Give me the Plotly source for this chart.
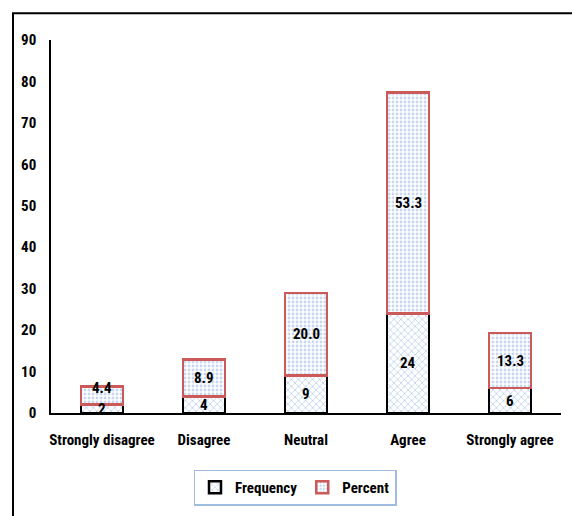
import plotly.graph_objects as go

categories = ["Strongly disagree", "Disagree", "Neutral", "Agree", "Strongly agree"]
frequency = [2, 4, 9, 24, 6]
percent = [4.4, 8.9, 20.0, 53.3, 13.3]
y_ticks = [0, 10, 20, 30, 40, 50, 60, 70, 80, 90]

FONT = "Liberation Sans Narrow, Roboto Condensed, Arial Narrow, sans-serif"

W, H = 572, 516
L, R, T, B = 51, 11, 40, 100
pw, ph = W - L - R, H - T - B
Y_MAX = 90
px_per_unit = ph / Y_MAX

label_font = dict(family=FONT, size=15, color="black", weight="bold")

fig = go.Figure()
fig.add_trace(go.Bar(
    x=categories, y=frequency, name="Frequency",
    marker=dict(color="white",
                line=dict(color="black", width=2.5),
                pattern=dict(shape="x", fgcolor="#7ea6dc", bgcolor="white",
                             size=5, solidity=0.3)),
))
fig.add_trace(go.Bar(
    x=categories, y=percent, name="Percent",
    marker=dict(color="white",
                line=dict(color="#cc5a58", width=2.5),
                pattern=dict(shape=".", fgcolor="#8fb0e0", bgcolor="white",
                             size=4, solidity=0.4)),
))

# value labels centred in each segment; a percent label is nudged up when
# its segment is too short to keep it clear of the frequency label below
MIN_GAP = 21
for cat, f, p in zip(categories, frequency, percent):
    fig.add_annotation(x=cat, y=f / 2, text=f"{f:d}", showarrow=False,
                       font=label_font)
    gap = (f / 2 + p / 2) * px_per_unit
    fig.add_annotation(x=cat, y=f + p / 2, text=f"{p:.1f}", showarrow=False,
                       font=label_font, yshift=max(0, MIN_GAP - gap))

# outer frame (left and top edges only)
fx = (13 - L) / pw
fy = 1 + (T - 13) / ph
fig.add_shape(type="path", xref="paper", yref="paper",
              path=f"M {fx},-1 L {fx},{fy} L 1.2,{fy}",
              line=dict(color="black", width=2))

fig.update_layout(
    width=W, height=H,
    margin=dict(l=L, r=R, t=T, b=B),
    barmode="stack", bargap=0.59,
    plot_bgcolor="white", paper_bgcolor="white",
    font=dict(family=FONT, size=15, color="black"),
    showlegend=True,
    legend=dict(orientation="h", x=(295 - L) / pw, xanchor="center",
                y=(416 - 473) / ph, yanchor="top",
                bordercolor="#9fbce0", borderwidth=1.5,
                font=dict(family=FONT, size=15, color="black", weight="bold"),
                itemwidth=30, traceorder="normal"),
    xaxis=dict(showline=True, linecolor="black", linewidth=2,
               ticks="", showgrid=False, ticklabelstandoff=12,
               tickfont=dict(family=FONT, size=15, color="black", weight="bold")),
    yaxis=dict(range=[0, Y_MAX], tickvals=y_ticks, showline=True, linecolor="black",
               linewidth=1.5, ticks="", showgrid=False, zeroline=False,
               ticklabelstandoff=10,
               tickfont=dict(family=FONT, size=15, color="black", weight="bold")),
)

fig.write_html("out.html")
